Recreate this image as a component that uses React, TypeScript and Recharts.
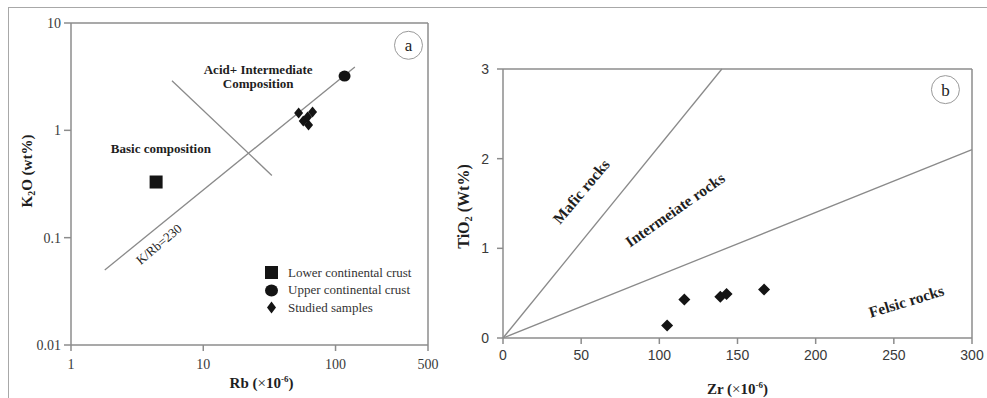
import React from "react";
import { ScatterChart, Scatter, XAxis, YAxis, ReferenceLine, ReferenceDot, Label } from "recharts";

const SERIF = '"Liberation Serif", "Times New Roman", serif';
const SANS = '"Liberation Sans", Arial, sans-serif';
const INK = "#141414";
const AXIS = "#8c8c8c";

// panel (a): Rb (ppm) vs K2O (wt%)
const lowerCrust = [{ x: 4.4, y: 0.33 }];
const upperCrust = [{ x: 117, y: 3.2 }];
const studiedA = [
  { x: 52.6, y: 1.45 },
  { x: 67, y: 1.48 },
  { x: 57, y: 1.22 },
  { x: 61.5, y: 1.33 },
  { x: 62.5, y: 1.12 },
];
const rbTicks = [1, 10, 100, 500];
const k2oTicks = [0.01, 0.1, 1, 10];
const kRbLine = [{ x: 1.8, y: 0.05 }, { x: 140, y: 3.9 }];
const dividerLine = [{ x: 5.8, y: 2.9 }, { x: 33, y: 0.38 }];
const legendNames = ["Lower continental crust", "Upper continental crust", "Studied samples"];

// panel (b): Zr (ppm) vs TiO2 (wt%)
const studiedB = [
  { x: 105, y: 0.14 },
  { x: 116, y: 0.43 },
  { x: 139, y: 0.46 },
  { x: 143, y: 0.49 },
  { x: 167, y: 0.54 },
];
const zrTicks = [0, 50, 100, 150, 200, 250, 300];
const tiTicks = [0, 1, 2, 3];
const maficLine = [{ x: 0, y: 0 }, { x: 140, y: 3 }];
const felsicLine = [{ x: 0, y: 0 }, { x: 300, y: 2.1 }];

const Square = (p: any) => <rect x={p.cx - 6.5} y={p.cy - 6.5} width={13} height={13} fill={INK} />;
const Dot = (p: any) => <ellipse cx={p.cx} cy={p.cy} rx={6} ry={5.5} fill={INK} />;
const DiamondA = (p: any) => (
  <path d={`M${p.cx},${p.cy - 5.5}L${p.cx + 4.5},${p.cy}L${p.cx},${p.cy + 5.5}L${p.cx - 4.5},${p.cy}Z`} fill={INK} />
);
const DiamondB = (p: any) => (
  <path d={`M${p.cx},${p.cy - 6}L${p.cx + 6},${p.cy}L${p.cx},${p.cy + 6}L${p.cx - 6},${p.cy}Z`} fill={INK} />
);

// text placed at a data point, optionally rotated
const note = (lines: string[], angle: number, size = 13, weight = "bold") => (p: any) => {
  const { cx, cy } = p;
  const lh = size * 1.05;
  const y0 = cy - ((lines.length - 1) * lh) / 2;
  return (
    <text
      transform={`rotate(${angle} ${cx} ${cy})`}
      textAnchor="middle"
      fontFamily={SERIF}
      fontSize={size}
      fontWeight={weight}
      fill="#1e1e1e"
    >
      {lines.map((t, i) => (
        <tspan key={i} x={cx} y={y0 + i * lh} dy="0.35em">
          {t}
        </tspan>
      ))}
    </text>
  );
};

const badge = (letter: string) => (p: any) => (
  <g>
    <circle cx={p.cx} cy={p.cy} r={14} fill="#fff" stroke="#9a9a9a" strokeWidth={1} />
    <text x={p.cx} y={p.cy} dy="0.35em" textAnchor="middle" fontFamily={SERIF} fontSize={17} fill="#222">
      {letter}
    </text>
  </g>
);

const unitTitle = (name: string, dx: number, dy: number) => (props: any) => {
  const vb = props.viewBox;
  return (
    <text
      x={vb.x + vb.width / 2 + dx}
      y={vb.y + dy}
      textAnchor="middle"
      fontFamily={SERIF}
      fontSize={15}
      fontWeight="bold"
      fill="#1e1e1e"
    >
      {name} (<tspan fontWeight="normal">×</tspan>10
      <tspan fontSize={9} dy={-6}>-6</tspan>
      <tspan dy={6}>)</tspan>
    </text>
  );
};

const sideTitle = (head: string, tail: string, dx: number, dy: number, size: number) => (props: any) => {
  const vb = props.viewBox;
  const x = vb.x + dx;
  const y = vb.y + vb.height / 2 + dy;
  return (
    <text
      transform={`rotate(-90 ${x} ${y})`}
      x={x}
      y={y}
      dy="0.35em"
      textAnchor="middle"
      fontFamily={SERIF}
      fontSize={size}
      fontWeight="bold"
      fill="#1e1e1e"
    >
      {head}
      <tspan fontSize={size * 0.65} dy={3}>2</tspan>
      <tspan dy={-3}>{tail}</tspan>
    </text>
  );
};

const legendIcons = [
  <rect x={0} y={0} width={13} height={13} fill={INK} />,
  <ellipse cx={6.5} cy={6.5} rx={6.5} ry={6} fill={INK} />,
  <path d="M6.5,0.5L11,6.5L6.5,12.5L2,6.5Z" fill={INK} />,
];

const serifTick = { fill: "#3a3a3a", fontSize: 14, fontFamily: SERIF };
const sansTick = { fill: "#3a3a3a", fontSize: 14, fontFamily: SANS };

export default function App() {
  return (
    <div style={{ position: "absolute", left: 0, top: 0, width: 987, height: 398, background: "#fff", overflow: "hidden" }}>
      <div
        style={{
          position: "absolute",
          left: 8,
          top: 7,
          width: 979,
          height: 391,
          borderTop: "1px solid #a8a8a8",
          borderLeft: "1px solid #a8a8a8",
          boxSizing: "border-box",
        }}
      />

      {/* panel a */}
      <div style={{ position: "absolute", left: 0, top: 0 }}>
        <ScatterChart width={440} height={398} margin={{ top: 23, right: 12, bottom: 23, left: 0 }}>
          <XAxis
            dataKey="x"
            type="number"
            scale="log"
            domain={[1, 500]}
            ticks={rbTicks}
            interval={0}
            allowDataOverflow
            height={30}
            stroke={AXIS}
            strokeWidth={1.5}
            tickSize={6}
            tickMargin={8}
            tick={serifTick}
          >
            <Label content={unitTitle("Rb", 12, 43)} />
          </XAxis>
          <YAxis
            dataKey="y"
            type="number"
            scale="log"
            domain={[0.01, 10]}
            ticks={k2oTicks}
            interval={0}
            allowDataOverflow
            width={71}
            stroke={AXIS}
            strokeWidth={1.5}
            tickSize={7}
            tickMargin={3}
            tick={serifTick}
          >
            <Label content={sideTitle("K", "O (wt%)", 27, -13, 15)} />
          </YAxis>
          <ReferenceLine y={10} stroke={AXIS} strokeWidth={1.5} />
          <ReferenceLine x={500} stroke={AXIS} strokeWidth={1.5} />
          <ReferenceLine segment={kRbLine} stroke="#8a8a8a" strokeWidth={1.3} />
          <ReferenceLine segment={dividerLine} stroke="#8a8a8a" strokeWidth={1.3} />
          <ReferenceDot x={26} y={3.17} r={0} shape={note(["Acid+ Intermediate", "Composition"], 0)} />
          <ReferenceDot x={4.78} y={0.684} r={0} shape={note(["Basic composition"], 0)} />
          <ReferenceDot x={4.61} y={0.087} r={0} shape={note(["K/Rb=230"], -40, 13, "normal")} />
          <ReferenceDot x={356} y={6.2} r={0} shape={badge("a")} />
          <Scatter name={legendNames[0]} data={lowerCrust} shape={Square} isAnimationActive={false} />
          <Scatter name={legendNames[1]} data={upperCrust} shape={Dot} isAnimationActive={false} />
          <Scatter name={legendNames[2]} data={studiedA} shape={DiamondA} isAnimationActive={false} />
        </ScatterChart>
        <div style={{ position: "absolute", left: 265, top: 264, fontFamily: SERIF, fontSize: 13, color: "#333" }}>
          {legendNames.map((n, i) => (
            <div key={n} style={{ display: "flex", alignItems: "center", height: 17.5 }}>
              <svg width={13} height={13} style={{ marginRight: 10 }}>
                {legendIcons[i]}
              </svg>
              <span>{n}</span>
            </div>
          ))}
        </div>
      </div>

      {/* panel b */}
      <div style={{ position: "absolute", left: 440, top: 0 }}>
        <ScatterChart width={547} height={398} margin={{ top: 69, right: 15, bottom: 30, left: 0 }}>
          <XAxis
            dataKey="x"
            type="number"
            domain={[0, 300]}
            ticks={zrTicks}
            interval={0}
            allowDataOverflow
            height={30}
            stroke={AXIS}
            strokeWidth={1.5}
            tickSize={6}
            tickMargin={6}
            tick={sansTick}
          >
            <Label content={unitTitle("Zr", 0, 56)} />
          </XAxis>
          <YAxis
            dataKey="y"
            type="number"
            domain={[0, 3]}
            ticks={tiTicks}
            interval={0}
            allowDataOverflow
            width={63}
            stroke={AXIS}
            strokeWidth={1.5}
            tickSize={6}
            tickMargin={8}
            tick={sansTick}
          >
            <Label content={sideTitle("TiO", " (Wt%)", 23, 3, 16)} />
          </YAxis>
          <ReferenceLine y={3} stroke={AXIS} strokeWidth={1.5} />
          <ReferenceLine x={300} stroke={AXIS} strokeWidth={1.5} />
          <ReferenceLine segment={maficLine} stroke="#8a8a8a" strokeWidth={1.3} />
          <ReferenceLine segment={felsicLine} stroke="#8a8a8a" strokeWidth={1.3} />
          <ReferenceDot x={50} y={1.635} r={0} shape={note(["Mafic rocks"], -50, 15.5)} />
          <ReferenceDot x={110} y={1.43} r={0} shape={note(["Intermeiate rocks"], -35, 15.5)} />
          <ReferenceDot x={258} y={0.41} r={0} shape={note(["Felsic rocks"], -17, 15.5)} />
          <ReferenceDot x={283} y={2.77} r={0} shape={badge("b")} />
          <Scatter name="Studied samples" data={studiedB} shape={DiamondB} isAnimationActive={false} />
        </ScatterChart>
      </div>
    </div>
  );
}
